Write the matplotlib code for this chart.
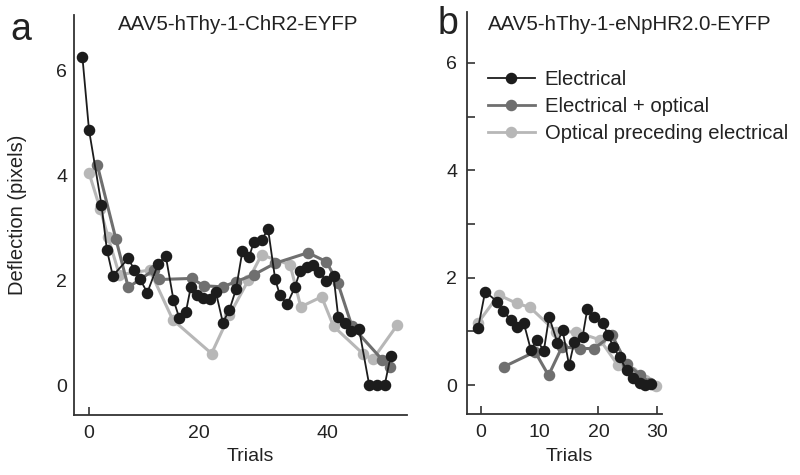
import matplotlib
matplotlib.use("Agg")
import matplotlib.pyplot as plt
from matplotlib.lines import Line2D

plt.rcParams['font.family'] = ['Liberation Sans', 'DejaVu Sans']

# ---------------- data: panel a (AAV5-hThy-1-ChR2-EYFP) ----------------
a_elec_x = [-1.1, 0.0, 2.1, 3.0, 4.0, 6.6, 7.6, 8.6, 9.8, 11.6, 12.9, 14.2, 15.2, 16.3,
            17.1, 18.2, 19.2, 20.3, 21.3, 22.5, 23.6, 24.7, 25.8, 26.9, 27.7, 29.0, 30.1,
            31.3, 32.1, 33.3, 34.6, 35.5, 36.6, 37.7, 38.7, 39.8, 41.1, 41.9, 43.0, 44.0,
            45.4, 47.1, 48.4, 49.7, 50.7]
a_elec_y = [6.24, 4.86, 3.43, 2.58, 2.08, 2.41, 2.20, 2.01, 1.76, 2.30, 2.46, 1.62, 1.27, 1.40,
            1.86, 1.71, 1.65, 1.64, 1.78, 1.19, 1.43, 1.82, 2.56, 2.43, 2.73, 2.76, 2.97,
            2.01, 1.71, 1.54, 1.86, 2.18, 2.25, 2.29, 2.16, 1.99, 2.08, 1.29, 1.19, 1.02,
            1.06, 0.0, 0.0, 0.0, 0.55]

a_eo_x = [1.4, 4.5, 6.6, 10.9, 11.8, 17.3, 19.3, 22.5, 24.7, 27.7, 31.3, 36.8, 39.9, 41.8,
          44.2, 49.3, 50.6]
a_eo_y = [4.19, 2.79, 1.86, 2.19, 2.01, 2.03, 1.89, 1.87, 1.97, 2.10, 2.32, 2.52, 2.35, 1.95,
          1.12, 0.48, 0.35]

a_opt_x = [0.0, 1.9, 3.2, 5.1, 10.2, 14.1, 20.6, 23.6, 26.8, 29.0, 33.8, 35.6, 39.1, 41.1,
           46.1, 47.7, 51.8]
a_opt_y = [4.04, 3.35, 2.82, 2.10, 2.19, 1.24, 0.60, 1.33, 2.00, 2.48, 2.29, 1.49, 1.68, 1.12,
           0.59, 0.49, 1.14]

# ---------------- data: panel b (AAV5-hThy-1-eNpHR2.0-EYFP) ----------------
b_elec_x = [-0.5, 0.7, 2.8, 3.8, 5.1, 6.1, 7.3, 8.5, 9.5, 10.7, 11.6, 13.0, 13.9, 15.0,
            15.9, 17.3, 18.1, 19.25, 20.7, 21.7, 22.5, 23.6, 24.8, 25.9, 27.0, 27.9, 29.0]
b_elec_y = [1.06, 1.74, 1.55, 1.37, 1.21, 1.08, 1.15, 0.65, 0.84, 0.64, 1.27, 0.79, 1.02, 0.37,
            0.81, 0.90, 1.41, 1.26, 1.15, 0.93, 0.71, 0.52, 0.28, 0.13, 0.04, 0.0, 0.02]

b_eo_x = [3.9, 9.2, 11.5, 13.8, 16.9, 19.25, 22.3, 24.8, 27.1, 28.8]
b_eo_y = [0.34, 0.62, 0.18, 0.71, 0.68, 0.68, 0.93, 0.40, 0.19, 0.04]

b_opt_x = [-0.5, 3.0, 6.1, 8.3, 12.8, 16.2, 20.3, 23.3, 25.7, 27.9, 29.8]
b_opt_y = [1.16, 1.68, 1.52, 1.45, 0.99, 0.99, 0.84, 0.37, 0.24, 0.09, -0.02]

series_labels = ['Electrical', 'Electrical + optical', 'Optical preceding electrical']
a_title = 'AAV5-hThy-1-ChR2-EYFP'
b_title = 'AAV5-hThy-1-eNpHR2.0-EYFP'
y_label = 'Deflection (pixels)'
x_label = 'Trials'
a_xtick_labels = ['0', '20', '40']
a_yticks = [0, 2, 4, 6]
b_xticks = [0, 10, 20, 30]
b_yticks = [0, 2, 4, 6]

# ---------------- styles ----------------
C_ELEC = '#1c1c1c'
C_EO = '#6f6f6f'
C_OPT = '#b7b7b7'
MS = 7.3
W, H = 800, 475
TXT = '#222222'
AX = '#333333'

fig = plt.figure(figsize=(8, 4.75), dpi=100)

def px_axes(l, r, t, b):
    return fig.add_axes([l / W, 1 - b / H, (r - l) / W, (b - t) / H])

axa = px_axes(74, 407, 15, 415)
axb = px_axes(467, 662, 12, 414)

def draw(ax, ex, ey, gx, gy, ox, oy):
    ax.plot(ox, oy, '-o', color=C_OPT, mfc=C_OPT, mec=C_OPT, lw=2.2, ms=MS, zorder=2, clip_on=False)
    ax.plot(gx, gy, '-o', color=C_EO, mfc=C_EO, mec=C_EO, lw=2.2, ms=MS, zorder=3, clip_on=False)
    ax.plot(ex, ey, '-o', color=C_ELEC, mfc=C_ELEC, mec=C_ELEC, lw=1.3, ms=MS, zorder=4, clip_on=False)

draw(axa, a_elec_x, a_elec_y, a_eo_x, a_eo_y, a_opt_x, a_opt_y)
draw(axb, b_elec_x, b_elec_y, b_eo_x, b_eo_y, b_opt_x, b_opt_y)

for ax in (axa, axb):
    for s in ('top', 'right'):
        ax.spines[s].set_visible(False)
    for s in ('left', 'bottom'):
        ax.spines[s].set_linewidth(1.3)
        ax.spines[s].set_color(AX)
    ax.tick_params(direction='in', length=6, width=1.2, colors=AX,
                   labelsize=14, labelcolor=TXT, pad=7)

# panel a: 0 -> y385, 6 -> y70 ; x: 0 -> x89, 40 -> x327
axa.set_xticks([0, 18.5, 40], a_xtick_labels)
axa.set_yticks(a_yticks)
axa.set_ylim(-0.571, 7.048)
axa.set_xlim(-2.52, 53.45)
axa.tick_params(axis='y', length=0, pad=5)
for i, t in enumerate(axa.xaxis.get_major_ticks()):
    if i > 0:
        t.tick1line.set_visible(False)

# panel b: 0 -> x481, 20 -> x598
axb.set_xticks(b_xticks)
axb.set_yticks(b_yticks)
axb.set_yticks([1, 3, 5], minor=True)
axb.set_ylim(-0.54, 6.95)
axb.set_xlim(-2.39, 30.83)
axb.tick_params(axis='y', which='minor', direction='in', length=6, width=1.2, colors=AX)
for i, t in enumerate(axb.xaxis.get_major_ticks()):
    if i == 1:
        t.tick1line.set_visible(False)

axa.set_xlabel(x_label, fontsize=14, color=TXT, labelpad=5)
axb.set_xlabel(x_label, fontsize=14, color=TXT, labelpad=5)
axa.xaxis.set_label_coords((250 - 74) / 333, -0.082)
axb.xaxis.set_label_coords((569 - 467) / 195, -0.085)
fig.text(18 / W, 1 - 215 / H, y_label, fontsize=14.5, rotation=90, va='center', ha='center', color=TXT)

fig.text(118 / W, 1 - 25 / H, a_title, fontsize=14.8, va='center', ha='left', color=TXT)
fig.text(488 / W, 1 - 25 / H, b_title, fontsize=14.8, va='center', ha='left', color=TXT)
fig.text(10 / W, 1 - 30 / H, 'a', fontsize=27, va='center', ha='left', color=TXT)
fig.text(438 / W, 1 - 24 / H, 'b', fontsize=27, va='center', ha='left', color=TXT)

handles = [Line2D([], [], color=c, marker='o', mfc=c, mec=c, ms=MS, lw=lw)
           for c, lw in ((C_ELEC, 1.3), (C_EO, 2.0), (C_OPT, 2.0))]
axb.legend(handles, series_labels, loc='upper left', bbox_to_anchor=(488 / W, 1 - 70 / H),
           bbox_transform=fig.transFigure, frameon=False, fontsize=14.6, handlelength=2.3,
           handletextpad=0.5, labelspacing=0.4, borderpad=0, borderaxespad=0,
           labelcolor=TXT)

fig.savefig('out.png', dpi=100)
